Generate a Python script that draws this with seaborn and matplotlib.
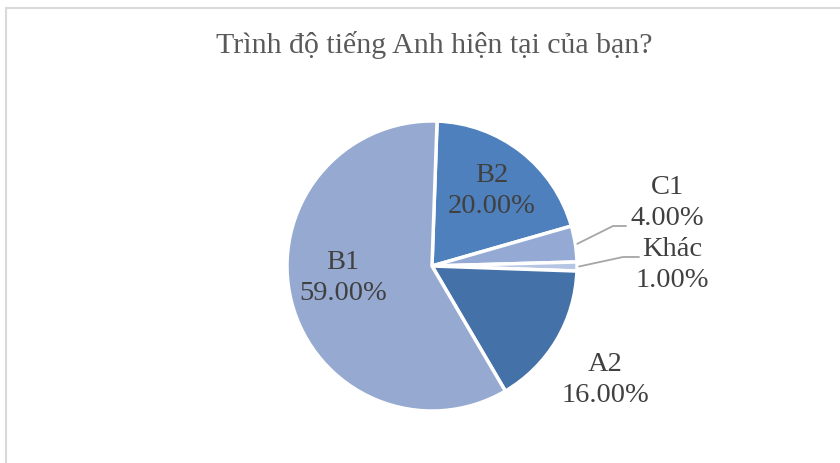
import numpy as np
import matplotlib
matplotlib.use("Agg")
import matplotlib.pyplot as plt
import seaborn as sns
from matplotlib.patches import Rectangle

categories = ["B2", "C1", "Khác", "A2", "B1"]
values = [20.0, 4.0, 1.0, 16.0, 59.0]
title = "Trình độ tiếng Anh hiện tại của bạn?"
colors = ["#4E80BD", "#94A9D4", "#B6C5E3", "#4472A8", "#95A9D1"]

sns.set_theme(style="white")
plt.rcParams['font.family'] = ['Liberation Serif', 'DejaVu Serif']

W, H = 840, 463
fig = plt.figure(figsize=(W / 100, H / 100), dpi=100)
ax = fig.add_axes([0, 0, 1, 1])
ax.set_xlim(0, W)
ax.set_ylim(0, H)
ax.axis("off")

# chart border (top and left edges visible)
ax.add_patch(Rectangle((6, -20), W + 20, H - 8 + 20, fill=False,
                       edgecolor="#D9D9D9", linewidth=1.5))

cx, cy, r = 432, H - 266, 145
wedges, _ = ax.pie(values, colors=colors, startangle=88, counterclock=False,
                   center=(cx, cy), radius=r,
                   wedgeprops=dict(edgecolor="white", linewidth=2.5))
ax.set_xlim(0, W)
ax.set_ylim(0, H)
ax.set_aspect("equal")
ax.axis("off")

ax.text(434, H - 45, title, ha="center", va="center", fontsize=21.5, color="#595959")

lab_color = "#404040"
fs = 20.5
label_pos = {
    "B2": (492, H - 191),
    "B1": (343, H - 278),
    "C1": (667, H - 203),
    "Khác": (672, H - 265),
    "A2": (605, H - 380),
}
for cat, val, w in zip(categories, values, wedges):
    x, y = label_pos[cat]
    ax.text(x, y, f"{cat}\n{val:.2f}%", ha="center", va="center", fontsize=fs,
            color=lab_color, linespacing=1.3)

# leader lines for the small slices
for cat, w, (ex, ey) in [("C1", wedges[1], (626, H - 226)), ("Khác", wedges[2], (639, H - 257))]:
    ang = np.deg2rad((w.theta1 + w.theta2) / 2)
    sx, sy = cx + r * np.cos(ang), cy + r * np.sin(ang)
    kx = ex - 13 if cat == "C1" else ex - 16
    ax.plot([sx + 2, kx, ex], [sy, ey, ey], color="#A6A6A6", linewidth=1.3)

fig.savefig("out.png", dpi=100)
